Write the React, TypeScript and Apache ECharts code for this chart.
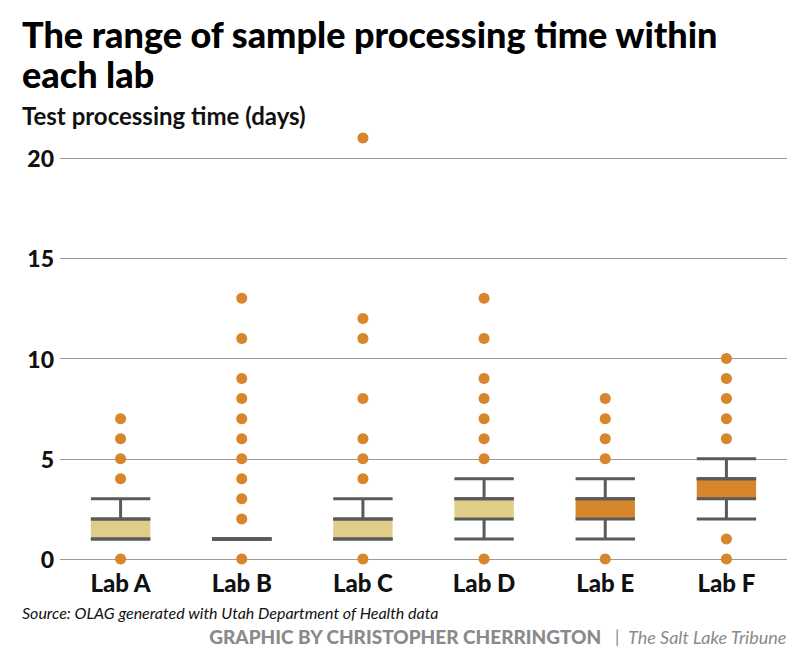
import React, { useEffect, useRef } from "react";
import * as echarts from "echarts";

const labs = ["Lab A", "Lab B", "Lab C", "Lab D", "Lab E", "Lab F"];
// [min, q1, median, q3, max]
const boxStats = [
  [1, 1, 2, 2, 3],
  [1, 1, 1, 1, 1],
  [1, 1, 2, 2, 3],
  [1, 2, 3, 3, 4],
  [1, 2, 3, 3, 4],
  [2, 3, 4, 4, 5],
];
const boxFills = ["#DFCD88", "#DFCD88", "#DFCD88", "#DFCD88", "#D6862B", "#D6862B"];
const outliersA = [0, 4, 5, 6, 7];
const outliersB = [0, 2, 3, 4, 5, 6, 7, 8, 9, 11, 13];
const outliersC = [0, 4, 5, 6, 8, 11, 12, 21];
const outliersD = [0, 5, 6, 7, 8, 9, 11, 13];
const outliersE = [0, 5, 6, 7, 8];
const outliersF = [0, 1, 6, 7, 8, 9, 10];
const outlierLists = [outliersA, outliersB, outliersC, outliersD, outliersE, outliersF];
const yTicks = [0, 5, 10, 15, 20];

const FONT = 'Lato, "Open Sans", sans-serif';

export default function App() {
  const ref = useRef<HTMLDivElement>(null);
  useEffect(() => {
    if (!ref.current) return;
    const chart = echarts.init(ref.current, undefined, { renderer: "svg" });
    const boxData = boxStats.map((s, i) => [i, ...s, i]);
    const outlierData: number[][] = [];
    outlierLists.forEach((list, i) => list.forEach((v) => outlierData.push([i, v])));
    const lineColor = "#5a5a5a";
    chart.setOption({
      animation: false,
      grid: { left: 60, right: 20, top: 158, height: 401 },
      xAxis: {
        type: "category",
        data: labs,
        axisLine: { show: false },
        axisTick: { show: false },
        axisLabel: {
          margin: 11,
          color: "#111",
          fontFamily: FONT,
          fontWeight: 900,
          fontSize: 24,
        },
      },
      yAxis: {
        type: "value",
        min: yTicks[0],
        max: yTicks[yTicks.length - 1],
        interval: 5,
        axisLine: { show: false },
        axisTick: { show: false },
        axisLabel: {
          margin: 6,
          color: "#111",
          fontFamily: FONT,
          fontWeight: 900,
          fontSize: 23,
        },
        splitLine: { lineStyle: { color: "#9a9a9a", width: 1.2 } },
      },
      graphic: [
        {
          type: "text",
          left: 22,
          top: 14,
          style: {
            text: "The range of sample processing time within\neach lab",
            font: `900 36px ${FONT}`,
            lineHeight: 40,
            fill: "#000",
          },
        },
        {
          type: "text",
          left: 22,
          top: 103,
          style: {
            text: "Test processing time (days)",
            font: `bold 24px ${FONT}`,
            fill: "#111",
          },
        },
        {
          type: "text",
          left: 22,
          top: 604,
          style: {
            text: "Source: OLAG generated with Utah Department of Health data",
            font: `italic 16px ${FONT}`,
            fill: "#111",
          },
        },
        {
          type: "text",
          right: 20,
          top: 627,
          style: {
            rich: {
              a: { font: `900 19px ${FONT}`, fill: "#8a8a8a" },
              b: { font: `17px ${FONT}`, fill: "#8a8a8a" },
              c: { font: `italic 18px ${FONT}`, fill: "#8a8a8a" },
            },
            text: "{a|GRAPHIC BY CHRISTOPHER CHERRINGTON}{b|   |  }{c|The Salt Lake Tribune}",
          },
        },
      ],
      series: [
        {
          type: "custom",
          clip: false,
          data: boxData,
          encode: { x: 0, y: [1, 2, 3, 4, 5] },
          renderItem: (params: any, api: any) => {
            const x = api.value(0);
            const pMin = api.coord([x, api.value(1)]);
            const pQ1 = api.coord([x, api.value(2)]);
            const pMed = api.coord([x, api.value(3)]);
            const pQ3 = api.coord([x, api.value(4)]);
            const pMax = api.coord([x, api.value(5)]);
            const band = api.size([1, 0])[0];
            const half = band * 0.245;
            const cx = pQ1[0];
            const fill = boxFills[api.value(6)];
            const ls = { stroke: lineColor, lineWidth: 3 };
            const hline = (y: number) => ({
              type: "line",
              shape: { x1: cx - half, y1: y, x2: cx + half, y2: y },
              style: ls,
            });
            return {
              type: "group",
              children: [
                {
                  type: "rect",
                  shape: { x: cx - half, y: pQ3[1], width: half * 2, height: pQ1[1] - pQ3[1] },
                  style: { fill },
                },
                { type: "line", shape: { x1: cx, y1: pMax[1], x2: cx, y2: pQ3[1] }, style: ls },
                { type: "line", shape: { x1: cx, y1: pQ1[1], x2: cx, y2: pMin[1] }, style: ls },
                hline(pMin[1]),
                hline(pQ1[1]),
                hline(pMed[1]),
                hline(pQ3[1]),
                hline(pMax[1]),
              ],
            };
          },
          z: 2,
        },
        {
          type: "scatter",
          clip: false,
          data: outlierData,
          symbolSize: 11,
          itemStyle: { color: "#D8862C", opacity: 1 },
          z: 3,
        },
      ],
    });
    return () => chart.dispose();
  }, []);
  return (
    <div
      ref={ref}
      style={{ position: "fixed", left: 0, top: 0, width: 807, height: 663, background: "#fff" }}
    />
  );
}
